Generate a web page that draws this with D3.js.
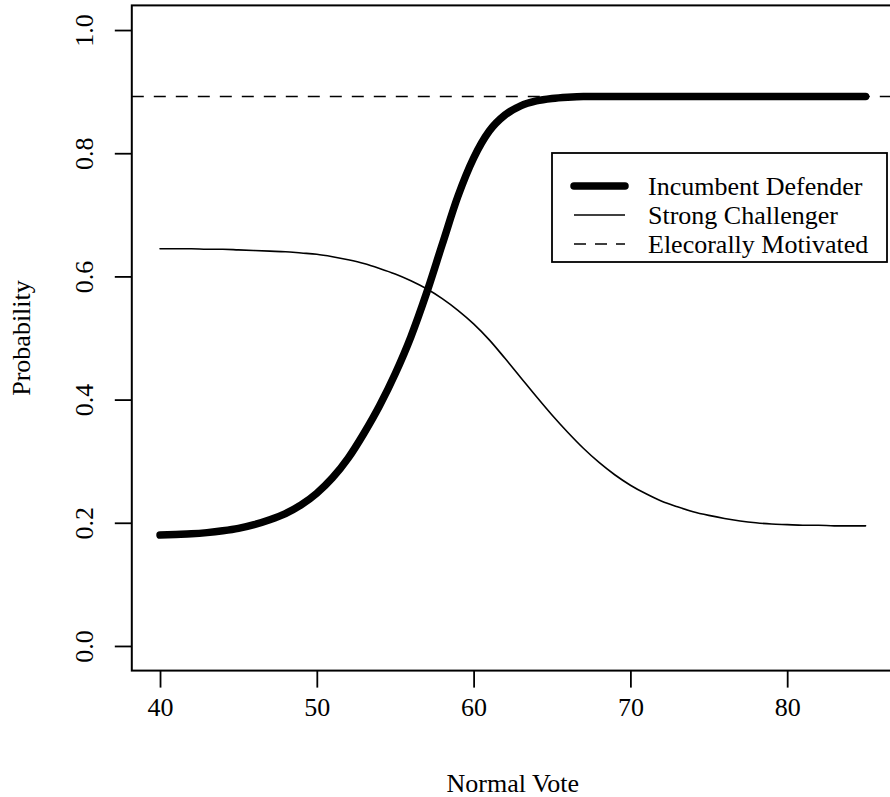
<!DOCTYPE html>
<html>
<head>
<meta charset="utf-8">
<script src="https://cdn.jsdelivr.net/npm/d3@7"></script>
<style>
  body { margin: 0; background: #fff; }
  svg { display: block; font-family: "Liberation Serif", "DejaVu Serif", serif; }
</style>
</head>
<body>
<svg id="chart"></svg>
<script>
// normal vote values (x axis)
const normalVote = d3.range(40, 86);

// probabilities, one per normal vote value
const incumbentDefender = [
  0.180, 0.181, 0.182, 0.184, 0.187, 0.191, 0.197, 0.205, 0.215, 0.229,
  0.248, 0.273, 0.305, 0.345, 0.390, 0.442, 0.502, 0.573, 0.652, 0.730,
  0.792, 0.836, 0.862, 0.877, 0.885, 0.889, 0.891, 0.892, 0.892, 0.892,
  0.892, 0.892, 0.892, 0.892, 0.892, 0.892, 0.892, 0.892, 0.892, 0.892,
  0.892, 0.892, 0.892, 0.892, 0.892, 0.892
];
const strongChallenger = [
  0.645, 0.645, 0.645, 0.644, 0.644, 0.643, 0.642, 0.641, 0.640, 0.638,
  0.636, 0.632, 0.627, 0.621, 0.613, 0.604, 0.593, 0.580, 0.564, 0.545,
  0.523, 0.497, 0.467, 0.436, 0.405, 0.375, 0.347, 0.321, 0.298, 0.278,
  0.261, 0.247, 0.235, 0.226, 0.218, 0.212, 0.207, 0.203, 0.200, 0.198,
  0.197, 0.196, 0.196, 0.195, 0.195, 0.195
];
const electorallyMotivated = 0.892;

const xTicks = [40, 50, 60, 70, 80];
const yTicks = [0, 0.2, 0.4, 0.6, 0.8, 1.0];

const legendLabels = ["Incumbent Defender", "Strong Challenger", "Elecorally Motivated"];

const width = 890;
const height = 797;

const svg = d3.select("#chart")
  .attr("width", width)
  .attr("height", height);

svg.append("rect").attr("width", width).attr("height", height).attr("fill", "#fff");

// plot region (R style 4% padding on the ranges)
const x = d3.scaleLinear().domain([38.2, 86.8]).range([131.8, 893.8]);
const y = d3.scaleLinear().domain([-0.04, 1.04]).range([670.6, 5.4]);

svg.append("defs").append("clipPath").attr("id", "plotclip")
  .append("rect")
  .attr("x", x.range()[0]).attr("y", y.range()[1])
  .attr("width", x.range()[1] - x.range()[0])
  .attr("height", y.range()[0] - y.range()[1]);

const plot = svg.append("g").attr("clip-path", "url(#plotclip)");

// dashed reference line
plot.append("line")
  .attr("x1", x.range()[0]).attr("x2", x.range()[1])
  .attr("y1", y(electorallyMotivated)).attr("y2", y(electorallyMotivated))
  .attr("stroke", "#000").attr("stroke-width", 1.6)
  .attr("stroke-dasharray", "12,10");

const line = d3.line().curve(d3.curveMonotoneX);

plot.append("path")
  .attr("d", line(normalVote.map((v, i) => [x(v), y(strongChallenger[i])])))
  .attr("fill", "none").attr("stroke", "#000").attr("stroke-width", 1.6)
  .attr("stroke-linecap", "round");

plot.append("path")
  .attr("d", line(normalVote.map((v, i) => [x(v), y(incumbentDefender[i])])))
  .attr("fill", "none").attr("stroke", "#000").attr("stroke-width", 7.5)
  .attr("stroke-linecap", "round").attr("stroke-linejoin", "round");

// axes
const xAxis = svg.append("g")
  .attr("transform", `translate(0,${y.range()[0]})`)
  .call(d3.axisBottom(x).tickValues(xTicks).tickSize(17).tickPadding(10).tickFormat(d3.format("d")));
xAxis.select(".domain").remove();
xAxis.selectAll("line").attr("stroke-width", 1.8);
xAxis.selectAll("text").attr("font-size", 26).attr("font-family", "Liberation Serif").attr("fill", "#000");

const yAxis = svg.append("g")
  .attr("transform", `translate(${x.range()[0]},0)`)
  .call(d3.axisLeft(y).tickValues(yTicks).tickSize(17).tickFormat(d3.format(".1f")));
yAxis.select(".domain").remove();
yAxis.selectAll("line").attr("stroke-width", 1.8);
yAxis.selectAll("text")
  .attr("font-size", 26).attr("font-family", "Liberation Serif").attr("fill", "#000")
  .attr("x", null).attr("dy", null)
  .attr("text-anchor", "middle")
  .attr("transform", "translate(-39,0) rotate(-90)");

// box
svg.append("rect")
  .attr("x", x.range()[0]).attr("y", y.range()[1])
  .attr("width", x.range()[1] - x.range()[0])
  .attr("height", y.range()[0] - y.range()[1])
  .attr("fill", "none").attr("stroke", "#000").attr("stroke-width", 2);

// axis titles
svg.append("text")
  .attr("x", (x.range()[0] + x.range()[1]) / 2).attr("y", 792)
  .attr("text-anchor", "middle").attr("font-size", 26)
  .text("Normal Vote");

svg.append("text")
  .attr("transform", `translate(30,${(y.range()[0] + y.range()[1]) / 2}) rotate(-90)`)
  .attr("text-anchor", "middle").attr("font-size", 26)
  .text("Probability");

// legend
const legend = svg.append("g");
legend.append("rect")
  .attr("x", 552).attr("y", 153).attr("width", 335).attr("height", 109)
  .attr("fill", "#fff").attr("stroke", "#000").attr("stroke-width", 1.8);

const legendStyles = [
  { w: 7.5, dash: null },
  { w: 1.6, dash: null },
  { w: 1.6, dash: "12,9" }
];
legendLabels.forEach((lab, i) => {
  const ly = 186 + i * 29;
  legend.append("line")
    .attr("x1", 574).attr("x2", 625).attr("y1", ly).attr("y2", ly)
    .attr("stroke", "#000").attr("stroke-width", legendStyles[i].w)
    .attr("stroke-linecap", i === 0 ? "round" : "butt")
    .attr("stroke-dasharray", legendStyles[i].dash);
  legend.append("text")
    .attr("x", 648).attr("y", ly + 9)
    .attr("font-size", 26)
    .text(lab);
});
</script>
</body>
</html>
